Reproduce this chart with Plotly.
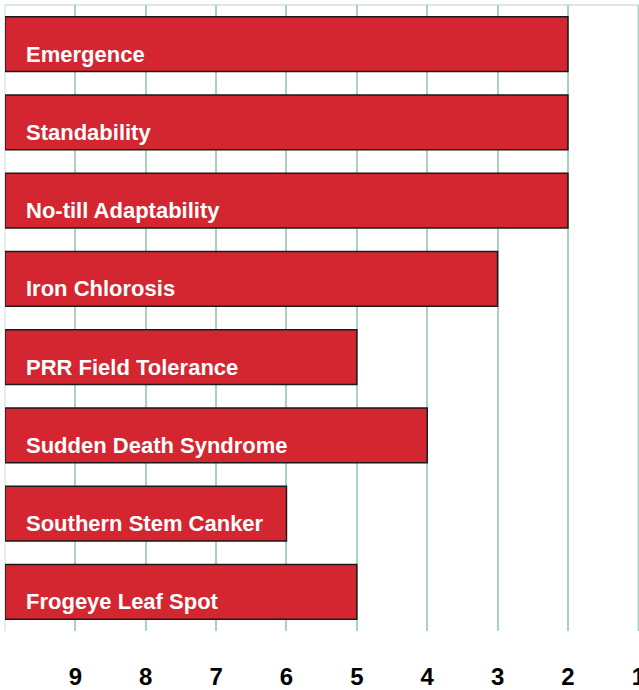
import plotly.graph_objects as go

categories = ["Emergence", "Standability", "No-till Adaptability", "Iron Chlorosis",
              "PRR Field Tolerance", "Sudden Death Syndrome", "Southern Stem Canker",
              "Frogeye Leaf Spot"]
scores = [2, 2, 2, 3, 5, 4, 6, 5]
tick_values = [9, 8, 7, 6, 5, 4, 3, 2, 1]
axis_start = 10
grid_color = "#a9d4bb"

fig = go.Figure()
fig.add_trace(go.Bar(
    y=categories,
    x=[s - axis_start for s in scores],
    base=axis_start,
    orientation="h",
    marker=dict(color="#D42631", line=dict(color="#1a1a1a", width=1.5)),
    hoverinfo="skip",
))

for c in categories:
    fig.add_annotation(
        x=axis_start, y=c, xref="x", yref="y", text=c, showarrow=False,
        xanchor="left", yanchor="middle", xshift=19, yshift=-10,
        font=dict(family="Liberation Sans, Arial, sans-serif", size=22, color="white", weight="bold"),
    )

fig.update_layout(
    width=639, height=690,
    margin=dict(l=5, r=0, t=5, b=59),
    plot_bgcolor="white", paper_bgcolor="white",
    bargap=0.3,
    showlegend=False,
    xaxis=dict(
        range=[axis_start, 0.99], tickvals=tick_values, ticktext=[str(t) for t in tick_values],
        showgrid=True, gridcolor=grid_color, gridwidth=1.5, zeroline=False,
        tickfont=dict(family="Liberation Sans, Arial, sans-serif", size=24, color="black", weight="bold"),
        ticks="", ticklabelstandoff=29, showline=False, automargin=False,
        ticklabeloverflow="allow",
    ),
    yaxis=dict(
        categoryorder="array", categoryarray=categories[::-1],
        autorange=False, range=[-0.5, len(categories) - 0.5],
        showticklabels=False, showgrid=False, zeroline=False,
        showline=False, automargin=False,
    ),
)
fig.add_shape(type="line", xref="paper", yref="paper", x0=0, x1=1, y0=1, y1=1,
              line=dict(color="#dde7e2", width=2), layer="below")
fig.add_shape(type="line", xref="paper", yref="paper", x0=0, x1=0, y0=0, y1=1,
              line=dict(color="#dde7e2", width=1.5), layer="below")
# edge gridline (plotly drops the gridline at the plot edge)
fig.add_shape(type="line", xref="x", yref="paper", x0=tick_values[-1], x1=tick_values[-1],
              y0=0, y1=1, line=dict(color=grid_color, width=1.5), layer="below")

fig.write_html("out.html", config={"displayModeBar": False},
               post_script="document.body.style.margin='0';document.body.style.overflow='hidden';")
